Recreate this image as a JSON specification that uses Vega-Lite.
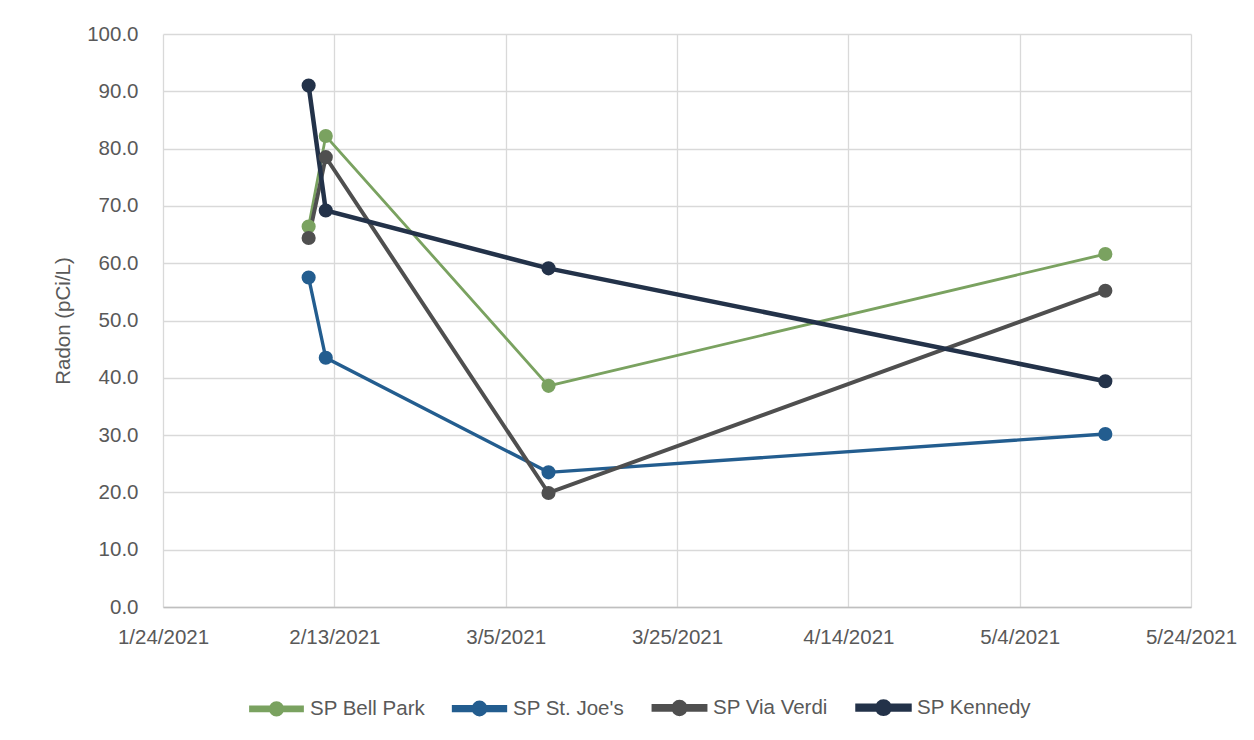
{
  "$schema": "https://vega.github.io/schema/vega-lite/v6.json",
  "autosize": {"type": "none"},
  "width": 1028,
  "height": 573,
  "padding": {"left": 163, "top": 34, "right": 63, "bottom": 133},
  "background": "white",
  "config": {
    "font": "Liberation Sans",
    "view": {"stroke": null},
    "axis": {"labelColor": "#595959", "titleColor": "#595959", "labelFontSize": 20.5, "titleFontSize": 20.5, "titleFontWeight": "normal", "gridColor": "#d9d9d9", "gridWidth": 1.3, "ticks": false}
  },
  "data": {
    "values": [
      {"date": "2021/02/10", "site": "SP Bell Park", "radon": 66.4},
      {"date": "2021/02/12", "site": "SP Bell Park", "radon": 82.2},
      {"date": "2021/03/10", "site": "SP Bell Park", "radon": 38.6},
      {"date": "2021/05/14", "site": "SP Bell Park", "radon": 61.6},
      {"date": "2021/02/10", "site": "SP St. Joe's", "radon": 57.5},
      {"date": "2021/02/12", "site": "SP St. Joe's", "radon": 43.5},
      {"date": "2021/03/10", "site": "SP St. Joe's", "radon": 23.5},
      {"date": "2021/05/14", "site": "SP St. Joe's", "radon": 30.2},
      {"date": "2021/02/10", "site": "SP Via Verdi", "radon": 64.4},
      {"date": "2021/02/12", "site": "SP Via Verdi", "radon": 78.5},
      {"date": "2021/03/10", "site": "SP Via Verdi", "radon": 19.9},
      {"date": "2021/05/14", "site": "SP Via Verdi", "radon": 55.2},
      {"date": "2021/02/10", "site": "SP Kennedy", "radon": 91.0},
      {"date": "2021/02/12", "site": "SP Kennedy", "radon": 69.2},
      {"date": "2021/03/10", "site": "SP Kennedy", "radon": 59.1},
      {"date": "2021/05/14", "site": "SP Kennedy", "radon": 39.4}
    ]
  },
  "mark": {"type": "line", "point": {"filled": true, "size": 200, "opacity": 1}},
  "encoding": {
    "x": {
      "field": "date", "type": "temporal", "title": null,
      "scale": {"domain": [{"year": 2021, "month": 1, "date": 24}, {"year": 2021, "month": 5, "date": 24}]},
      "axis": {
        "values": [
          {"year": 2021, "month": 1, "date": 24},
          {"year": 2021, "month": 2, "date": 13},
          {"year": 2021, "month": 3, "date": 5},
          {"year": 2021, "month": 3, "date": 25},
          {"year": 2021, "month": 4, "date": 14},
          {"year": 2021, "month": 5, "date": 4},
          {"year": 2021, "month": 5, "date": 24}
        ],
        "format": "%-m/%-d/%Y", "labelPadding": 20, "domainColor": "#bfbfbf", "domainWidth": 1.5, "labelFlush": false, "labelOverlap": false
      }
    },
    "y": {
      "field": "radon", "type": "quantitative", "title": "Radon (pCi/L)",
      "scale": {"domain": [0, 100], "nice": false},
      "axis": {"values": [0, 10, 20, 30, 40, 50, 60, 70, 80, 90, 100], "format": ".1f", "domain": false, "labelPadding": 25, "titlePadding": 13}
    },
    "color": {
      "field": "site", "type": "nominal",
      "scale": {"domain": ["SP Bell Park", "SP St. Joe's", "SP Via Verdi", "SP Kennedy"], "range": ["#7aa260", "#235d8f", "#4f4f4f", "#233249"]},
      "legend": {
        "title": null, "orient": "none", "legendX": 85, "legendY": 645, "direction": "horizontal", "columns": 4,
        "labelFontSize": 20.5, "labelColor": "#595959", "columnPadding": 20, "labelOffset": 5,
        "symbolType": "M-1,-0.075H1V0.075H-1ZM0.24,0A0.24,0.24 0 1 1 -0.24,0A0.24,0.24 0 1 1 0.24,0Z",
        "symbolSize": 2700, "symbolStrokeWidth": 0, "symbolOpacity": 1
      }
    },
    "strokeWidth": {
      "field": "site", "type": "nominal",
      "scale": {"domain": ["SP Bell Park", "SP St. Joe's", "SP Via Verdi", "SP Kennedy"], "range": [2.8, 4.5, 4.5, 4.5]},
      "legend": null
    },
    "order": {"field": "date", "type": "temporal"}
  }
}
